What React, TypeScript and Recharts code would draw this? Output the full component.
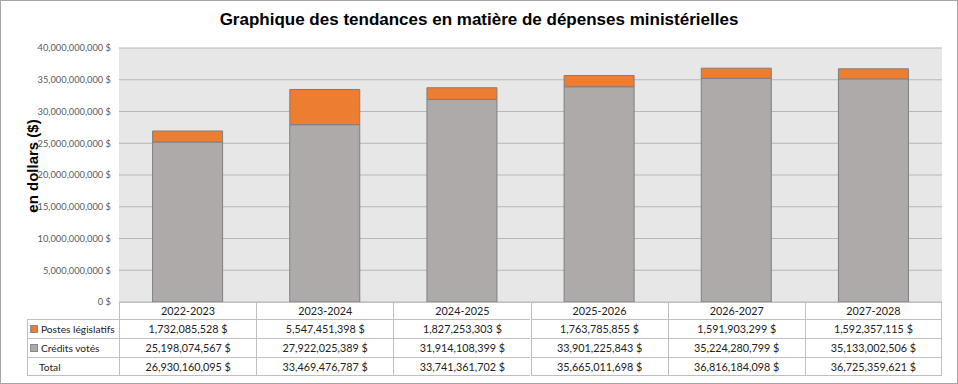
import React from 'react';
import { BarChart, Bar, XAxis, YAxis, CartesianGrid } from 'recharts';

const years = ['2022-2023', '2023-2024', '2024-2025', '2025-2026', '2026-2027', '2027-2028'];
const postesLegislatifs = [1732085528, 5547451398, 1827253303, 1763785855, 1591903299, 1592357115];
const creditsVotes = [25198074567, 27922025389, 31914108399, 33901225843, 35224280799, 35133002506];
const totals = [26930160095, 33469476787, 33741361702, 35665011698, 36816184098, 36725359621];
const yTicks = [0, 5e9, 10e9, 15e9, 20e9, 25e9, 30e9, 35e9, 40e9];

const ORANGE = '#ED7D31';
const GREY = '#AEAAAA';

const W = 958;
const H = 384;
const PLOT_L = 119;
const PLOT_R = 942;
const PLOT_T = 48;
const PLOT_B = 302;

const money = (v: number) => `${v.toLocaleString('en-US')} $`;

const data = years.map((y, i) => ({ year: y, credits: creditsVotes[i], postes: postesLegislatifs[i] }));

const tableRows = [
  { label: 'Postes législatifs', color: ORANGE, values: postesLegislatifs },
  { label: 'Crédits votés', color: GREY, values: creditsVotes },
  { label: 'Total', color: null, values: totals },
];

const rowTops = [319, 338, 357];
const ROW_H = 19;
const colW = (PLOT_R - PLOT_L) / years.length;
const LINE = '#BFBFBF';
const cellFont = { fontFamily: 'Lato, sans-serif', fontSize: 10.8, color: '#222' };

export default function App() {
  return (
    <div style={{ position: 'absolute', left: 0, top: 0, width: W, height: H, background: '#fff' }}>
      <div style={{ position: 'absolute', left: 0, top: 0, width: W - 2, height: H - 2, border: '1px solid #A6A6A6' }} />
      <div
        style={{
          position: 'absolute', left: 0, top: 10, width: W, textAlign: 'center',
          fontFamily: '"Liberation Sans", Arial, sans-serif', fontWeight: 'bold', fontSize: 17, color: '#000',
        }}
      >
        Graphique des tendances en matière de dépenses ministérielles
      </div>
      <div
        style={{
          position: 'absolute', left: 33, top: 166, transform: 'translate(-50%, -50%) rotate(-90deg)', whiteSpace: 'nowrap',
          fontFamily: '"Liberation Sans", Arial, sans-serif', fontWeight: 'bold', fontSize: 15, lineHeight: '16px', color: '#000',
        }}
      >
        en dollars ($)
      </div>
      <div style={{ position: 'absolute', left: 0, top: 0 }}>
        <BarChart
          width={W}
          height={H}
          data={data}
          margin={{ top: PLOT_T, right: W - PLOT_R, bottom: H - PLOT_B, left: 0 }}
          barCategoryGap="24.5%"
        >
          <CartesianGrid vertical={false} stroke="#B7B7B7" fill="#E7E7E7" />
          <XAxis dataKey="year" hide />
          <YAxis
            width={PLOT_L}
            domain={[0, 40e9]}
            ticks={yTicks}
            tickFormatter={money}
            axisLine={false}
            tickLine={false}
            tickSize={0}
            tickMargin={8}
            tick={{ fontFamily: 'Lato, sans-serif', fontSize: 9.3, fill: '#595959' }}
          />
          <Bar dataKey="credits" stackId="a" fill={GREY} stroke="#7F7F7F" strokeWidth={1} isAnimationActive={false} />
          <Bar dataKey="postes" stackId="a" fill={ORANGE} stroke="#7F7F7F" strokeWidth={1} isAnimationActive={false} />
        </BarChart>
      </div>
      {/* data table */}
      {years.map((y, i) => (
        <div
          key={y}
          style={{
            position: 'absolute', left: PLOT_L + i * colW, top: PLOT_B, width: colW, height: 17,
            boxSizing: 'border-box', borderLeft: `1px solid ${LINE}`, borderRight: i === years.length - 1 ? `1px solid ${LINE}` : 'none',
            borderTop: `1px solid ${LINE}`, textAlign: 'center', lineHeight: '16px', ...cellFont,
          }}
        >
          {y}
        </div>
      ))}
      {tableRows.map((r, ri) => (
        <React.Fragment key={r.label}>
          <div
            style={{
              position: 'absolute', left: 27, top: rowTops[ri], width: PLOT_L - 27, height: ROW_H,
              boxSizing: 'border-box', borderLeft: `1px solid ${LINE}`, borderTop: `1px solid ${LINE}`,
              borderBottom: ri === tableRows.length - 1 ? `1px solid ${LINE}` : 'none',
              lineHeight: '18px', whiteSpace: 'nowrap', overflow: 'hidden', ...cellFont, fontSize: 10.2,
            }}
          >
            {r.color ? (
              <span style={{ display: 'inline-block', width: 6, height: 6, background: r.color, border: '0.5px solid #888', marginLeft: 2, marginRight: 3 }} />
            ) : (
              <span style={{ display: 'inline-block', width: 11 }} />
            )}
            {r.label}
          </div>
          {r.values.map((v, i) => (
            <div
              key={i}
              style={{
                position: 'absolute', left: PLOT_L + i * colW, top: rowTops[ri], width: colW, height: ROW_H,
                boxSizing: 'border-box', borderLeft: `1px solid ${LINE}`,
                borderRight: i === years.length - 1 ? `1px solid ${LINE}` : 'none',
                borderTop: `1px solid ${LINE}`,
                borderBottom: ri === tableRows.length - 1 ? `1px solid ${LINE}` : 'none',
                textAlign: 'center', lineHeight: '18px', ...cellFont,
              }}
            >
              {money(v)}
            </div>
          ))}
        </React.Fragment>
      ))}
    </div>
  );
}
